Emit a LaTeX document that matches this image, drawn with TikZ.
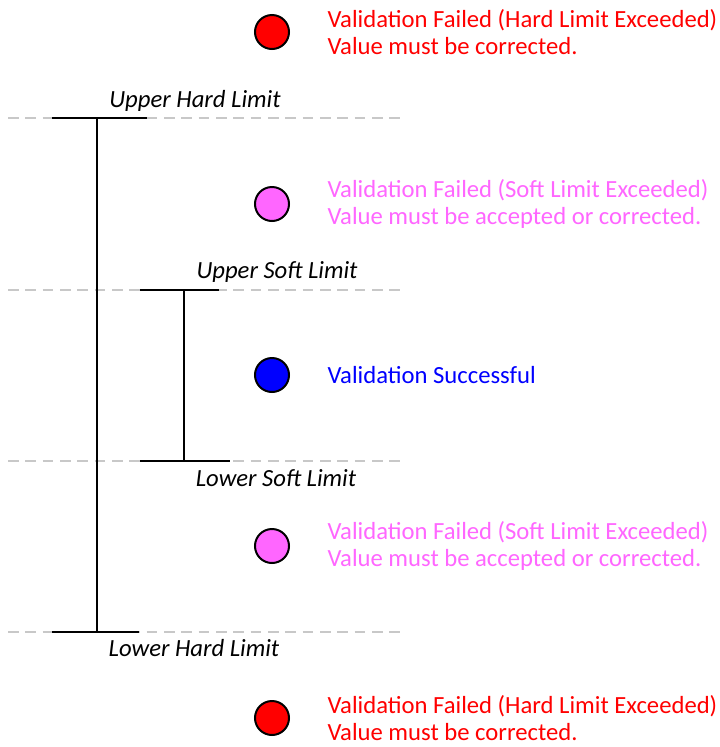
\documentclass[tikz,border=0pt]{standalone}
\usepackage{fontspec}
\setmainfont{Carlito}
\usepackage{xcolor}
\usepackage{tikz}
\usetikzlibrary{positioning}
\definecolor{hardx}{HTML}{FF0000}
\definecolor{softx}{HTML}{FF66FF}
\definecolor{okx}{HTML}{0000FF}
\definecolor{guide}{HTML}{C8C8C8}
\tikzset{
  lamp/.style={circle,draw=black,line width=1.5pt,minimum size=25.5pt,inner sep=0pt,fill=#1},
  msg/.style={right=28pt of #1,anchor=west,align=left,font=\fontsize{18.5}{19.8}\selectfont,inner sep=0pt},
  lim/.style={font=\fontsize{18.5}{20}\selectfont\itshape,inner sep=0pt},
  guideline/.style={guide,dashed,dash pattern=on 8pt off 5pt,line width=0.8pt},
  bar/.style={black,line width=1.5pt}
}
\begin{document}
\begin{tikzpicture}[x=0.75pt,y=-0.75pt]
\useasboundingbox (0,0) rectangle (720,747);
% dashed guide lines at the four limits
\foreach \y in {118,290,461,632}{\draw[guideline] (8,\y)--(402,\y);}
% hard limit bracket
\draw[bar] (52,118)--(147,118) (97,118)--(97,632) (52,632)--(139,632);
% soft limit bracket
\draw[bar] (140,290)--(219,290) (184,290)--(184,461) (140,461)--(230,461);
\node[lim] (uhl) at (195,101) {Upper Hard Limit};
\node[lim] (usl) at (277,272) {Upper Soft Limit};
\node[lim] (lsl) at (276,478) {Lower Soft Limit};
\node[lim] (lhl) at (194,648) {Lower Hard Limit};
% status lamps with their messages
\node[lamp=hardx] (top) at (272,32) {};
\node[msg=top,text=hardx] (topmsg) {Validation Failed (Hard Limit Exceeded)\\Value must be corrected.};
\node[lamp=softx] (upper) at (272,204) {};
\node[msg=upper,text=softx] (uppermsg) {Validation Failed (Soft Limit Exceeded)\\Value must be accepted or corrected.};
\node[lamp=okx] (mid) at (272,375) {};
\node[msg=mid,text=okx] (midmsg) {Validation Successful};
\node[lamp=softx] (lower) at (272,546) {};
\node[msg=lower,text=softx] (lowermsg) {Validation Failed (Soft Limit Exceeded)\\Value must be accepted or corrected.};
\node[lamp=hardx] (bottom) at (272,718) {};
\node[msg=bottom,text=hardx] (bottommsg) {Validation Failed (Hard Limit Exceeded)\\Value must be corrected.};
\end{tikzpicture}
\end{document}
